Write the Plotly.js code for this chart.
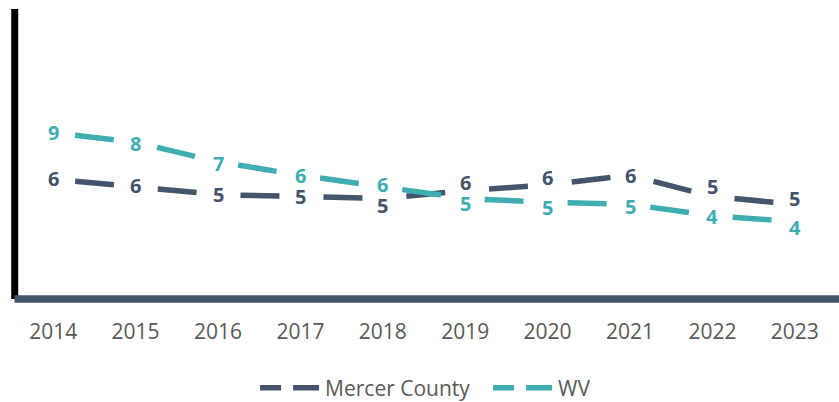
<!DOCTYPE html>
<html>
<head>
<meta charset="utf-8">
<script src="https://cdn.plot.ly/plotly-3.0.1.min.js"></script>
<style>
  html, body { margin: 0; padding: 0; background: #ffffff; }
  #chart { width: 839px; height: 402px; }
</style>
</head>
<body>
<div id="chart"></div>
<script>
// ---- data ----
var years = ['2014', '2015', '2016', '2017', '2018', '2019', '2020', '2021', '2022', '2023'];
var mercerCounty = [6.2, 5.8, 5.4, 5.3, 5.2, 5.6, 5.9, 6.4, 5.3, 4.9];
var wv = [8.6, 8.1, 7.1, 6.4, 5.8, 5.2, 5.0, 4.9, 4.3, 4.0];
var seriesNames = ['Mercer County', 'WV'];

// ---- styles ----
var mercerColor = '#44546A';
var wvColor = '#3FADB2';
var lineDash = '0px,22px,39px,22px';
var legendDash = '21px,12px,26px';
// label nudges in px (positive = up), to keep the data labels apart
var mercerLabelNudge = [1, 1, 0, 0, -7, 8, 7, 0, 10, 6];
var wvLabelNudge = [0, -1, -2, 0, 2, -5, -5, -2, -1, -6];

function seriesTrace(name, values, color) {
  return {
    type: 'scatter',
    mode: 'lines',
    name: name,
    x: years,
    y: values,
    line: { color: color, width: 5.5, dash: lineDash },
    showlegend: false,
    hoverinfo: 'skip'
  };
}

function legendTrace(name, color) {
  return {
    type: 'scatter',
    mode: 'lines',
    name: name,
    x: [null],
    y: [null],
    line: { color: color, width: 5.5, dash: legendDash },
    showlegend: true,
    hoverinfo: 'skip'
  };
}

// annotations on a category axis are placed by category index
function labelAnnotations(values, color, nudges) {
  return values.map(function (v, i) {
    return {
      x: i,
      y: v,
      xref: 'x',
      yref: 'y',
      text: String(Math.round(v)),
      showarrow: false,
      xanchor: 'center',
      yanchor: 'middle',
      yshift: nudges[i],
      font: { family: 'Open Sans', size: 20, color: color, weight: 'bold' }
    };
  });
}

var data = [
  seriesTrace(seriesNames[0], mercerCounty, mercerColor),
  seriesTrace(seriesNames[1], wv, wvColor),
  legendTrace(seriesNames[0], mercerColor),
  legendTrace(seriesNames[1], wvColor)
];

var layout = {
  width: 839,
  height: 402,
  margin: { l: 12, r: 3, t: 9, b: 103, autoexpand: false },
  paper_bgcolor: '#ffffff',
  plot_bgcolor: '#ffffff',
  font: { family: 'Open Sans', color: '#595959' },
  xaxis: {
    type: 'category',
    categoryorder: 'array',
    categoryarray: years,
    range: [-0.5, years.length - 0.5],
    showgrid: false,
    zeroline: false,
    showline: false,
    ticks: '',
    ticklabelstandoff: 18,
    tickfont: { family: 'Open Sans', size: 21, color: '#595959' }
  },
  yaxis: {
    range: [0, 15],
    showgrid: false,
    zeroline: false,
    showline: false,
    showticklabels: false,
    ticks: ''
  },
  annotations: labelAnnotations(mercerCounty, mercerColor, mercerLabelNudge)
    .concat(labelAnnotations(wv, wvColor, wvLabelNudge)),
  shapes: [
    { type: 'line', xref: 'paper', yref: 'paper', x0: 0.0033, x1: 0.0033, y0: 0, y1: 1,
      line: { color: '#000000', width: 7 } },
    { type: 'line', xref: 'paper', yref: 'paper', x0: 0.003, x1: 1.005, y0: 0, y1: 0,
      line: { color: mercerColor, width: 7.5 } }
  ],
  showlegend: true,
  legend: {
    orientation: 'h',
    x: 0.295,
    xanchor: 'left',
    y: -0.307,
    yanchor: 'middle',
    itemwidth: 60,
    entrywidth: 158,
    entrywidthmode: 'pixels',
    font: { family: 'Open Sans', size: 21, color: '#595959' },
    bgcolor: 'rgba(0,0,0,0)'
  }
};

Plotly.newPlot('chart', data, layout, { displayModeBar: false, staticPlot: true });
</script>
</body>
</html>
